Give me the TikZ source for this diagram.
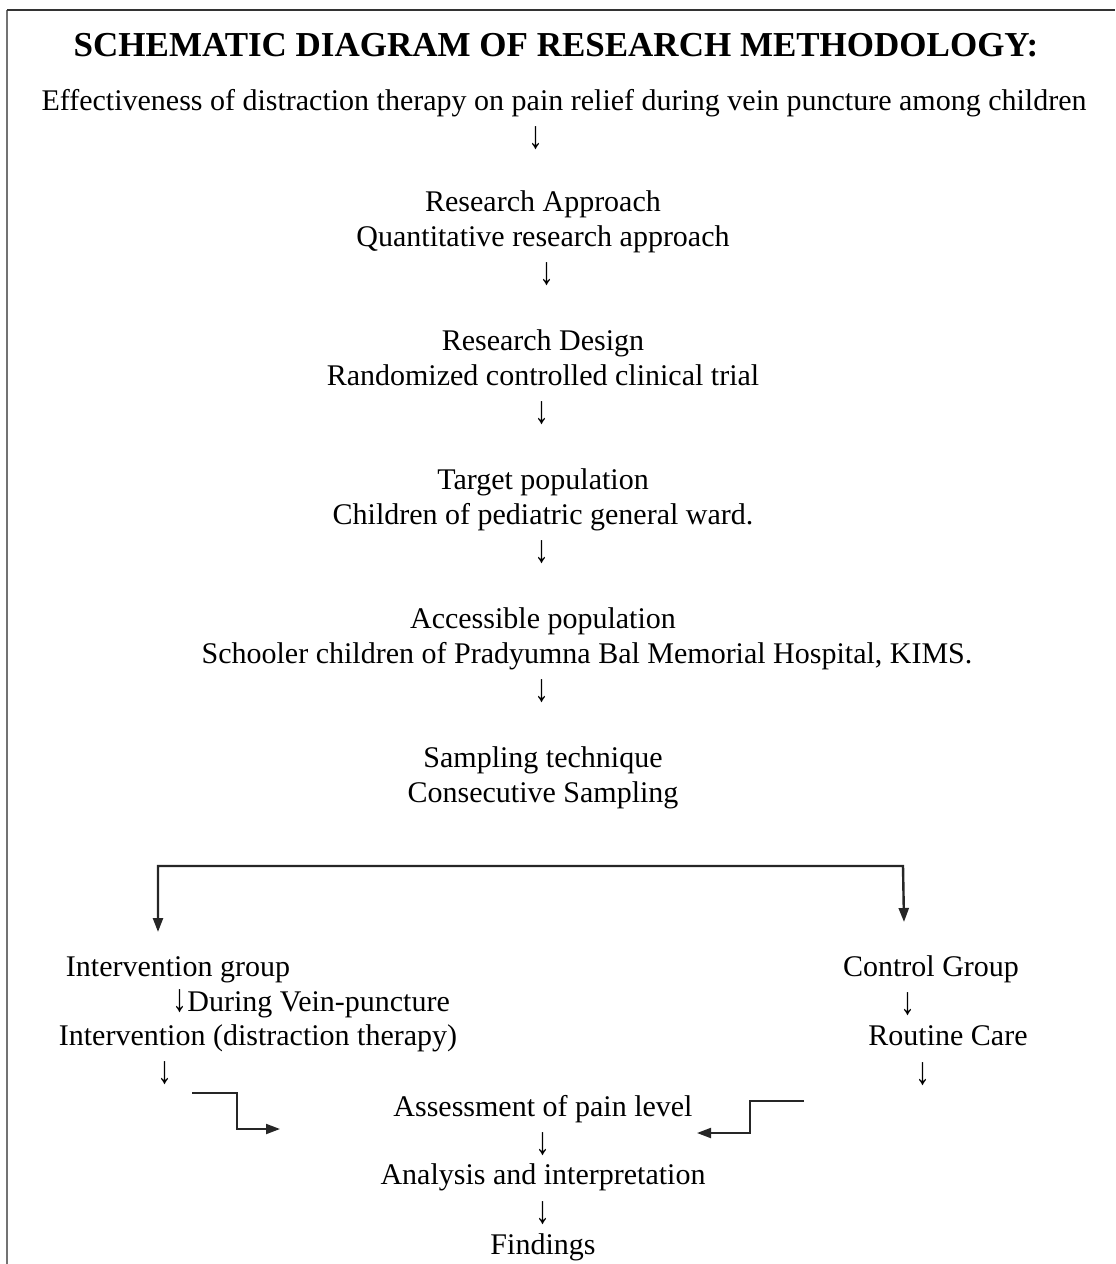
\documentclass[tikz,border=0pt]{standalone}
\usepackage{fontspec}
\setmainfont{Liberation Serif}
\usetikzlibrary{arrows.meta, positioning}
\newcommand{\dnarr}{\scalebox{1}[1.3]{↓}}
\tikzset{
  txt/.style={inner sep=0pt, anchor=base, font=\fontsize{15}{18}\selectfont},
  hd/.style={inner sep=0pt, anchor=base, font=\fontsize{17.5}{21}\selectfont\bfseries},
  dn/.style={txt},
  link/.style={-{Triangle[length=7pt,width=5pt]}, line width=1pt, black!85},
  fork/.style={{Triangle[length=7pt,width=5pt]}-{Triangle[length=7pt,width=5pt]}, line width=1.2pt, black!85},
}

\begin{document}
\begin{tikzpicture}[x=0.5pt, y=-0.5pt]
  \useasboundingbox (0,0) rectangle (1115,1264);
  % frame
  \draw[line width=1pt, black!55] (7,1264) -- (7,10);
  \draw[line width=1pt, black!80] (7,10) -- (1115,10);

  % main column
  \node[hd]  (title)   at (556,56)  {SCHEMATIC DIAGRAM OF RESEARCH METHODOLOGY:};
  \node[txt] (topic)   at (564,110) {Effectiveness of distraction therapy on pain relief during vein puncture among children};
  \node[dn]  (dn1)     at (536,148) {\dnarr};
  \node[txt] (appr)    at (543,211) {Research Approach};
  \node[txt] (apprq)   at (543,246) {Quantitative research approach};
  \node[dn]  (dn2)     at (547,284) {\dnarr};
  \node[txt] (design)  at (543,350) {Research Design};
  \node[txt] (designq) at (543,385) {Randomized controlled clinical trial};
  \node[dn]  (dn3)     at (542,423) {\dnarr};
  \node[txt] (target)  at (543,489) {Target population};
  \node[txt] (targetq) at (543,524) {Children of pediatric general ward.};
  \node[dn]  (dn4)     at (542,562) {\dnarr};
  \node[txt] (access)  at (543,628) {Accessible population};
  \node[txt] (accessq) at (587,663) {Schooler children of Pradyumna Bal Memorial Hospital, KIMS.};
  \node[dn]  (dn5)     at (542,701) {\dnarr};
  \node[txt] (sample)  at (543,767) {Sampling technique};
  \node[txt] (sampleq) at (543,802) {Consecutive Sampling};

  % split into two groups
  \coordinate (forkL) at (158,866);
  \coordinate (forkR) at (903,866);
  \coordinate (tipL)  at (158,932);
  \coordinate (tipR)  at (904,922);
  \draw[fork] (tipL) -- (forkL) -- (forkR) -- (tipR);

  % intervention side
  \node[txt] (intv)    at (178,976)  {Intervention group};
  \node[txt, anchor=base west] (during) at (172,1011) {\dnarr During Vein-puncture};
  \node[txt] (intvq)   at (258,1045) {Intervention (distraction therapy)};
  \node[dn]  (dnL)     at (165,1083) {\dnarr};

  % control side
  \node[txt] (ctrl)    at (931,976)  {Control Group};
  \node[dn]  (dnR1)    at (908,1014) {\dnarr};
  \node[txt] (routine) at (948,1045) {Routine Care};
  \node[dn]  (dnR2)    at (923,1084) {\dnarr};

  % merge
  \node[txt] (assess)  at (543,1116) {Assessment of pain level};
  \node[dn]  (dn6)     at (543,1154) {\dnarr};
  \node[txt] (analys)  at (543,1184) {Analysis and interpretation};
  \node[dn]  (dn7)     at (543,1223) {\dnarr};
  \node[txt] (finds)   at (543,1254) {Findings};

  \coordinate (inL)  at (192,1093);
  \coordinate (outL) at (280,1129);
  \coordinate (inR)  at (804,1101);
  \coordinate (outR) at (697,1133);
  \draw[link] (inL) -- ++(45,0) |- (outL);
  \draw[link] (inR) -- ++(-54,0) |- (outR);
\end{tikzpicture}
\end{document}
